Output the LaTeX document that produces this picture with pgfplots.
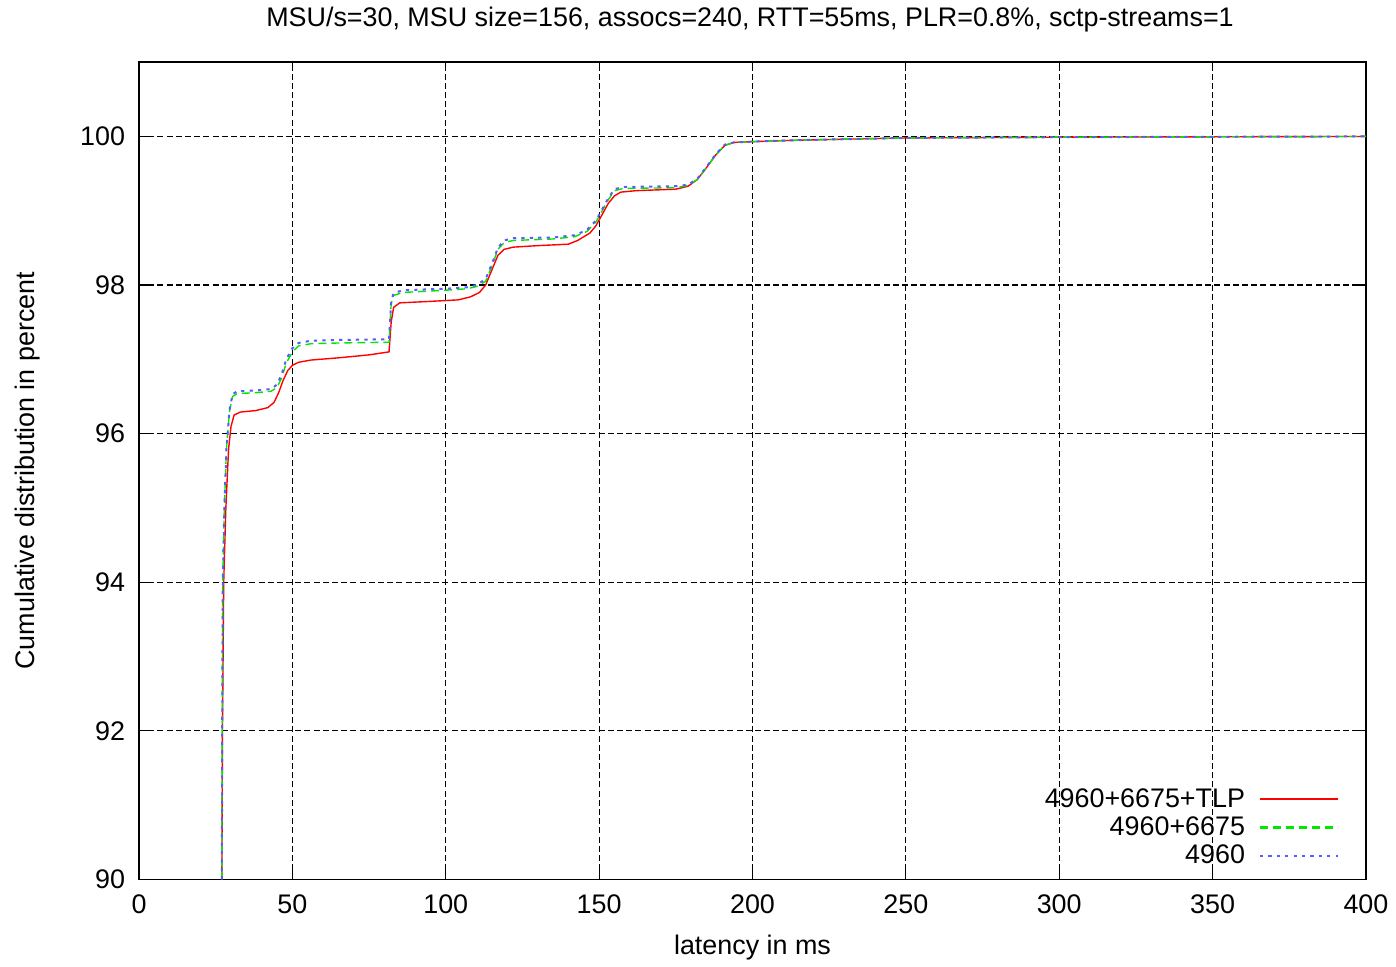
\documentclass[border={4bp 0bp 0.5bp 0bp}]{standalone}
\usepackage{pgfplots}
\pgfplotsset{compat=1.18}
\usepackage{fontspec}
\setmainfont{Liberation Sans}
\definecolor{gpred}{HTML}{FF0000}
\definecolor{gpgreen}{HTML}{00E800}
\definecolor{gpblue}{HTML}{5A5AFF}

\begin{document}
\begin{tikzpicture}
\begin{axis}[
  scale only axis, width=614bp, height=409bp,
  xmin=0, xmax=400, ymin=90, ymax=101,
  xtick={0,50,...,400}, ytick={90,92,...,100},
  font=\fontsize{13.5}{16}\selectfont,
  /pgf/number format/assume math mode=true,
  tick align=inside, major tick length=4.5bp,
  tick style={black, line width=0.6bp},
  axis line style={black, line width=0.9bp},
  grid=major,
  major grid style={black, line width=0.55bp, dash pattern=on 3bp off 1.6bp},
  xticklabel style={yshift=-4bp},
  yticklabel style={xshift=-3.5bp},
  xlabel={latency in ms},
  ylabel={Cumulative distribution in percent},
  xlabel style={at={(axis description cs:0.5,-0.0917)}, anchor=base},
  ylabel style={at={(axis description cs:-0.0912,0.5)}, anchor=center},
  title={MSU/s=30, MSU size=156, assocs=240, RTT=55ms, PLR=0.8\%, sctp-streams=1},
  every axis title shift=0pt,
  title style={at={(axis description cs:0.498,1.0526)}, anchor=center},
  legend style={draw=none, fill=none, at={(0.98,0.008)}, anchor=south east,
    row sep=-0.8bp, inner sep=1bp},
  legend cell align=right, legend plot pos=right,
  legend image code/.code={\path (0bp,0bp); \draw[#1, line width=1.1bp] (5bp,0bp) -- (44bp,0bp);},
]
\addplot[color=gpred, line width=0.7bp] coordinates {
(27.0,90) (27.2,92) (27.6,94) (28.3,95) (29.2,95.8) (30.0,96.1) (31.0,96.25)
(33,96.29) (38,96.31) (42,96.35) (44,96.42) (45.5,96.55) (47,96.72) (48.5,96.85)
(50,96.92) (52,96.96) (56,96.99) (65,97.02) (75,97.06) (81.5,97.1) (82.2,97.5)
(83,97.7) (85,97.76) (95,97.78) (104,97.8) (108,97.84) (111,97.9) (113,98.0)
(115,98.2) (117,98.4) (119,98.48) (122,98.51) (130,98.53) (140,98.55) (143,98.6)
(147,98.7) (149,98.8) (151,98.95) (153,99.1) (155,99.2) (157,99.25) (162,99.27)
(175,99.29) (179,99.33) (182,99.42) (185,99.58) (188,99.75) (191,99.88) (194,99.92)
(200,99.93) (215,99.95) (250,99.98) (300,99.99) (400,100)
};
\addlegendentry{4960+6675+TLP}
\addplot[color=gpgreen, line width=0.7bp, dash pattern=on 4bp off 2.5bp] coordinates {
(27.0,90) (27.1,92) (27.3,94) (27.8,95) (28.5,95.8) (29.5,96.3) (30.5,96.5)
(32,96.54) (38,96.55) (43,96.57) (45,96.62) (46.5,96.75) (48,96.95) (50,97.1)
(52,97.18) (56,97.21) (65,97.22) (81.5,97.23) (82.2,97.75) (83,97.86) (86,97.9)
(100,97.93) (107,97.95) (110,97.98) (113,98.05) (115,98.25) (117,98.48) (119,98.57)
(122,98.6) (135,98.62) (142,98.65) (146,98.72) (149,98.85) (151,99.0) (153,99.15)
(155,99.27) (158,99.3) (175,99.31) (179,99.34) (182,99.42) (185,99.58) (188,99.75)
(191,99.88) (194,99.92) (200,99.93) (215,99.95) (250,99.98) (300,99.99) (400,100)
};
\addlegendentry{4960+6675}
\addplot[color=gpblue, line width=1bp, dash pattern=on 1.6bp off 2.6bp] coordinates {
(27.0,90) (27.1,92) (27.3,94) (27.8,95) (28.5,95.8) (29.5,96.32) (30.5,96.53)
(32,96.57) (38,96.58) (43,96.6) (45,96.66) (46.5,96.8) (48,97.0) (50,97.15)
(52,97.22) (56,97.25) (65,97.26) (81.5,97.27) (82.2,97.78) (83,97.89) (86,97.93)
(100,97.95) (107,97.97) (110,98.0) (113,98.08) (115,98.28) (117,98.5) (119,98.6)
(122,98.63) (135,98.64) (142,98.67) (146,98.74) (149,98.87) (151,99.02) (153,99.17)
(155,99.29) (158,99.32) (175,99.33) (179,99.35) (182,99.43) (185,99.59) (188,99.76)
(191,99.89) (194,99.92) (200,99.93) (215,99.95) (250,99.98) (300,99.99) (400,100)
};
\addlegendentry{4960}
\end{axis}
\end{tikzpicture}
\end{document}
